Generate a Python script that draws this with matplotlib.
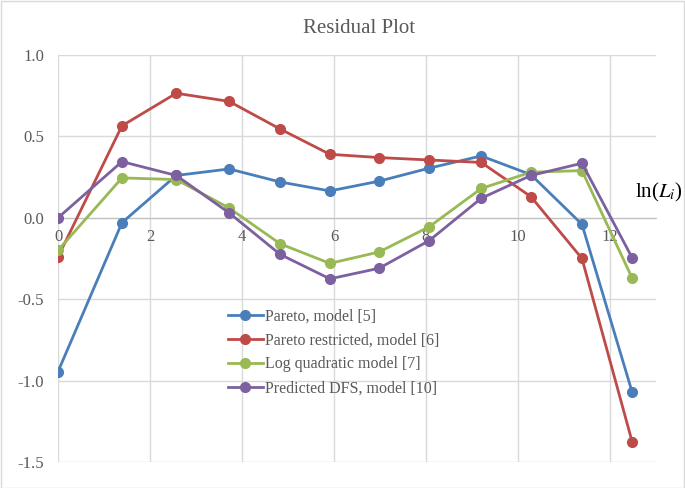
import matplotlib
matplotlib.use("Agg")
import matplotlib.pyplot as plt

x = [0.0, 1.39, 2.57, 3.72, 4.83, 5.91, 6.98, 8.07, 9.2, 10.28, 11.39, 12.48]
pareto = [-0.945, -0.03, 0.26, 0.30, 0.22, 0.165, 0.225, 0.305, 0.38, 0.265, -0.04, -1.07]
pareto_restricted = [-0.24, 0.565, 0.765, 0.715, 0.545, 0.39, 0.37, 0.355, 0.34, 0.13, -0.25, -1.375]
log_quadratic = [-0.2, 0.245, 0.235, 0.06, -0.16, -0.28, -0.21, -0.055, 0.18, 0.28, 0.29, -0.37]
predicted_dfs = [0.0, 0.345, 0.26, 0.03, -0.225, -0.375, -0.31, -0.14, 0.12, 0.26, 0.335, -0.245]

labels = ["Pareto, model [5]", "Pareto restricted, model [6]",
          "Log quadratic model [7]", "Predicted DFS, model [10]"]
colors = ["#4A7EBB", "#BE4B48", "#98B954", "#7D60A0"]
series = [pareto, pareto_restricted, log_quadratic, predicted_dfs]
xticks = [0, 2, 4, 6, 8, 10, 12]
yticks = [-1.5, -1.0, -0.5, 0.0, 0.5, 1.0]

plt.rcParams['font.family'] = ['Liberation Serif', 'DejaVu Serif']
plt.rcParams['mathtext.fontset'] = 'stix'

fig = plt.figure(figsize=(6.85, 4.88), dpi=100)
ax = fig.add_axes([0.0847, 0.0533, 0.873, 0.834])

for vals, c, lab in zip(series, colors, labels):
    ax.plot(x, vals, color=c, lw=2.0, marker='o', ms=7, label=lab, zorder=3)

ax.set_xlim(0, 13)
ax.set_ylim(-1.5, 1.0)
ax.set_xticks(xticks)
ax.set_yticks(yticks)
ax.set_yticklabels([f"{v:.1f}" for v in yticks])
ax.grid(True, color='#D9D9D9', lw=1.0, zorder=0)
ax.set_axisbelow(True)
for s in ['top', 'right', 'left']:
    ax.spines[s].set_visible(False)
ax.spines['bottom'].set_position(('data', 0))
ax.spines['bottom'].set_color('#BFBFBF')
ax.tick_params(axis='both', length=0, colors='#595959', labelsize=12)
ax.tick_params(axis='x', pad=8)
ax.tick_params(axis='y', pad=10)

fig.text(0.524, 0.942, "Residual Plot", ha='center', va='center', fontsize=15, color='#595959')
fig.text(0.962, 0.605, r"ln($L_i$)", ha='center', va='center', fontsize=15, color='black')

leg = ax.legend(loc='upper left', bbox_to_anchor=(0.26, 0.413), frameon=False,
                fontsize=11.5, handlelength=2.2, labelspacing=0.5, handletextpad=0.15,
                labelcolor='#595959')

border = plt.Rectangle((0.001, 0.001), 0.997, 0.997, transform=fig.transFigure,
                       fill=False, ec='#D9D9D9', lw=1)
fig.patches.append(border)

fig.savefig("out.png", dpi=100)
